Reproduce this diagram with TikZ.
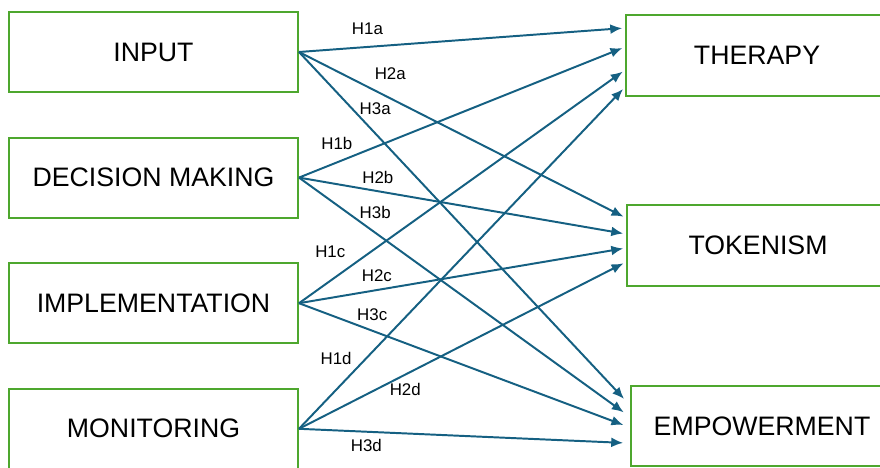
\documentclass[tikz,border=0pt]{standalone}
\usepackage{fontspec}
\setmainfont{Liberation Sans}
\usetikzlibrary{positioning,arrows.meta}
\definecolor{boxgreen}{HTML}{4EA72E}
\definecolor{arrowblue}{HTML}{156082}

\begin{document}
\begin{tikzpicture}[node distance=3.14cm,on grid,
  factor/.style={draw=boxgreen,line width=1.4pt,minimum width=7.225cm,minimum height=2cm,font=\fontsize{19}{22}\selectfont},
  outcome/.style={factor,minimum width=6.55cm,minimum height=2.02cm},
  hyp/.style={font=\fontsize{12}{14}\selectfont,inner sep=1pt},
  link/.style={-{Latex[length=8.5pt,width=7pt]},draw=arrowblue,line width=1.4pt,shorten >=2pt}]
 \useasboundingbox (0,0) rectangle (22,-11.7);
 \clip (0,0) rectangle (22,-11.7);
 % antecedents
 \node[factor] (input) at (3.8375,-1.3) {INPUT};
 \node[factor] (dec)[below=of input] {DECISION MAKING};
 \node[factor] (impl)[below=of dec] {IMPLEMENTATION};
 \node[factor] (mon)[below=of impl] {MONITORING};
 % outcomes
 \node[outcome] (ther) at (18.925,-1.3875) {THERAPY};
 \node[outcome] (tok) at (18.95,-6.1375) {TOKENISM};
 \node[outcome] (emp) at (19.05,-10.65) {EMPOWERMENT};
 \path[every edge/.style=link]
 (input.east) edge node[hyp,pos=.21,yshift=.45cm] {H1a} ([yshift=.6875cm]ther.west)
 (input.east) edge node[hyp,pos=.279,yshift=.615cm] {H2a} ([yshift=.6875cm]tok.west)
 (input.east) edge node[hyp,pos=.233,yshift=.615cm] {H3a} ([xshift=-.1cm,yshift=.625cm]emp.west)
 (dec.east) edge node[hyp,pos=.116,yshift=.47cm] {H1b} ([yshift=.2125cm]ther.west)
 (dec.east) edge node[hyp,pos=.241,yshift=.34cm] {H2b} ([yshift=.2875cm]tok.west)
 (dec.east) edge node[hyp,pos=.233,yshift=.5cm] {H3b} ([xshift=-.1cm,yshift=.3cm]emp.west)
 (impl.east) edge node[hyp,pos=.096,yshift=.72cm] {H1c} ([yshift=-.3625cm]ther.west)
 (impl.east) edge node[hyp,pos=.238,yshift=.35cm] {H2c} ([yshift=-.0625cm]tok.west)
 (impl.east) edge node[hyp,pos=.224,yshift=.41cm] {H3c} ([xshift=-.1cm]emp.west)
 (mon.east) edge node[hyp,pos=.114,yshift=.775cm] {H1d} ([yshift=-.7875cm]ther.west)
 (mon.east) edge node[hyp,pos=.325,yshift=-.375cm] {H2d} ([yshift=-.4125cm]tok.west)
 (mon.east) edge node[hyp,pos=.206,yshift=-.35cm] {H3d} ([xshift=-.1cm,yshift=-.425cm]emp.west);
\end{tikzpicture}
\end{document}
